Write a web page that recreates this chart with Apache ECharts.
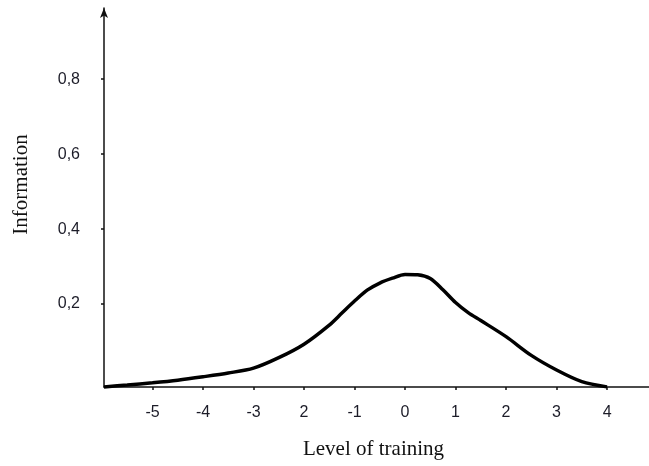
<!DOCTYPE html>
<html>
<head>
<meta charset="utf-8">
<script src="https://cdn.jsdelivr.net/npm/echarts@6/dist/echarts.min.js"></script>
<style>
html,body{margin:0;padding:0;background:#fff;}
#c{width:649px;height:466px;}
</style>
</head>
<body>
<div id="c"></div>
<script>
// Data
const levels = [-5.96, -5.5, -5, -4.5, -4, -3.5, -3, -2.5, -2, -1.5, -1.25, -1, -0.75, -0.5, -0.25, 0, 0.25, 0.5, 0.75, 1, 1.25, 1.5, 2, 2.5, 3, 3.5, 4];
const information = [-0.021, -0.016, -0.010, -0.003, 0.006, 0.016, 0.029, 0.057, 0.093, 0.144, 0.176, 0.208, 0.237, 0.256, 0.269, 0.279, 0.278, 0.268, 0.238, 0.204, 0.177, 0.156, 0.113, 0.063, 0.024, -0.007, -0.021];
const xTickValues = [-5, -4, -3, -2, -1, 0, 1, 2, 3, 4];
const xTickLabels = ['-5', '-4', '-3', '2', '-1', '0', '1', '2', '3', '4'];
const yTickValues = [0.2, 0.4, 0.6, 0.8];
const yTickLabels = ['0,2', '0,4', '0,6', '0,8'];
const xName = 'Level of training';
const yName = 'Information';

const chart = echarts.init(document.getElementById('c'), null, {renderer: 'canvas'});
const pts = levels.map((x, i) => [x, information[i]]);
const labelFont = {color: '#1c1c28', fontFamily: 'Liberation Sans, Arial, sans-serif', fontSize: 16};
chart.setOption({
  animation: false,
  backgroundColor: '#ffffff',
  grid: {left: 104, right: 0, top: 8, bottom: 79, containLabel: false},
  xAxis: {
    type: 'value',
    min: -5.96,
    max: 4.83,
    name: xName,
    nameLocation: 'middle',
    nameGap: 52,
    nameTextStyle: {fontFamily: 'Liberation Serif, Times New Roman, serif', fontSize: 21, color: '#111', padding: [0, 0, 0, -6]},
    axisLine: {onZero: false, lineStyle: {color: '#111', width: 1.5}},
    axisTick: {show: true, length: 3, customValues: xTickValues, lineStyle: {color: '#111', width: 1.5}},
    axisLabel: {
      customValues: xTickValues,
      margin: 18,
      formatter: v => { const i = xTickValues.indexOf(Math.round(v)); return i >= 0 ? xTickLabels[i] : ''; },
      ...labelFont
    },
    splitLine: {show: false}
  },
  yAxis: {
    type: 'value',
    min: -0.0213,
    max: 0.99,
    name: yName,
    nameLocation: 'middle',
    nameGap: 72,
    nameRotate: 90,
    nameTextStyle: {fontFamily: 'Liberation Serif, Times New Roman, serif', fontSize: 21, color: '#111', padding: [0, 0, 0, 26]},
    axisLine: {show: true, onZero: false, symbol: ['none', 'arrow'], symbolSize: [6, 10], lineStyle: {color: '#111', width: 1.5}},
    axisTick: {show: true, length: 3, customValues: yTickValues, lineStyle: {color: '#111', width: 1.5}},
    axisLabel: {
      customValues: yTickValues,
      margin: 24,
      formatter: v => { const i = yTickValues.findIndex(t => Math.abs(t - v) < 1e-6); return i >= 0 ? yTickLabels[i] : ''; },
      ...labelFont
    },
    splitLine: {show: false}
  },
  series: [{
    type: 'line',
    data: pts,
    smooth: 0.3,
    showSymbol: false,
    lineStyle: {color: '#000', width: 3.5},
    clip: false
  }]
});
</script>
</body>
</html>
